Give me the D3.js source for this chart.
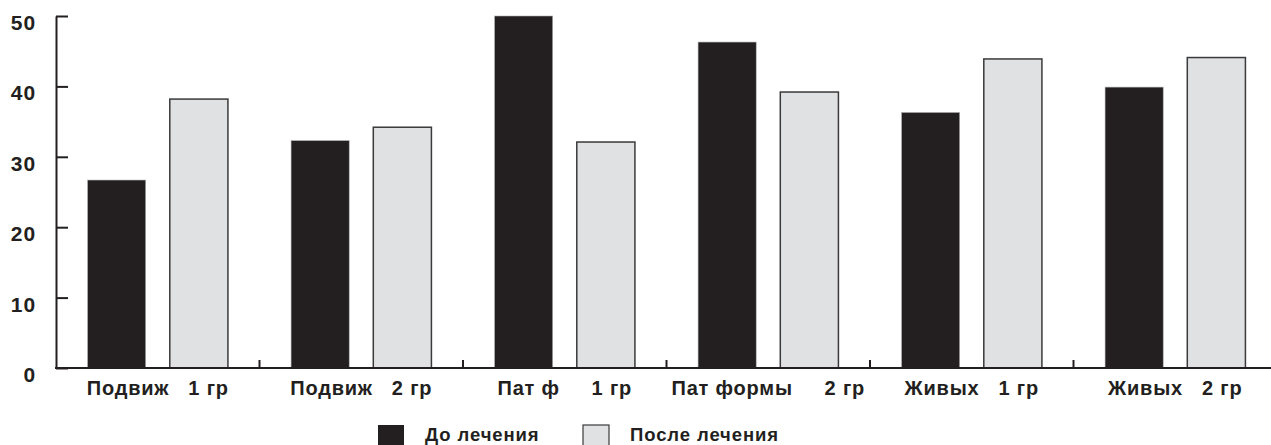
<!DOCTYPE html>
<html><head><meta charset="utf-8">
<script src="https://cdn.jsdelivr.net/npm/d3@7"></script>
<style>
html,body{margin:0;padding:0;background:#fff;}
svg{display:block;}
text{font-family:"Liberation Sans",Arial,sans-serif;font-weight:bold;fill:#231f20;}
</style></head>
<body>
<svg id="chart" width="1271" height="445"></svg>
<script>
const categories = ["Подвиж   1 гр", "Подвиж   2 гр", "Пат ф     1 гр", "Пат формы     2 гр", "Живых   1 гр", "Живых   2 гр"];
const seriesNames = ["До лечения", "После лечения"];
const before = [26.7, 32.3, 50.0, 46.3, 36.3, 39.9];
const after = [38.2, 34.2, 32.1, 39.2, 43.9, 44.1];
const yTicks = [0, 10, 20, 30, 40, 50];
const colors = ["#231f20", "#e0e1e3"];

(function () {
const svg = d3.select("#chart");
const mLeft = 56, mTop = 16, mBottom = 368, groupW = 203.5;
const FONT = '"Liberation Sans",Arial,sans-serif';

const y = d3.scaleLinear().domain([0, 50]).range([mBottom, mTop]);
const x0 = d3.scaleBand().domain(categories).range([mLeft, mLeft + groupW * categories.length]).padding(0);
const x1 = d3.scaleBand().domain(seriesNames).range([0, x0.bandwidth()]).paddingInner(0.293).paddingOuter(0.384);

const data = categories.map((c, i) => ({cat: c, vals: [before[i], after[i]]}));

const g = svg.append("g");
data.forEach(d => {
  d.vals.forEach((v, j) => {
    g.append("rect")
      .attr("x", x0(d.cat) + x1(seriesNames[j]))
      .attr("y", y(v))
      .attr("width", x1.bandwidth())
      .attr("height", y(0) - y(v))
      .attr("fill", colors[j])
      .attr("stroke", j === 0 ? "#b0b0b0" : "#3a3a3a")
      .attr("stroke-width", j === 0 ? 0.6 : 1.5);
  });
});

const yAxis = d3.axisLeft(y).tickValues(yTicks).tickSize(-12).tickSizeOuter(0).tickPadding(20);
const ya = svg.append("g").attr("transform", `translate(${mLeft},0)`).call(yAxis);
ya.select(".domain").attr("stroke", "#231f20").attr("stroke-width", 2);
ya.selectAll(".tick line").attr("stroke", "#231f20").attr("stroke-width", 2);
ya.selectAll(".tick text").attr("font-size", 21).attr("dy", "0.64em").attr("font-family", FONT).attr("font-weight", "bold").attr("fill", "#231f20").attr("letter-spacing", "0.9px");

const xAxis = d3.axisBottom(x0).tickSize(0).tickSizeOuter(0).tickPadding(14);
const xa = svg.append("g").attr("transform", `translate(0,${mBottom})`).call(xAxis);
xa.select(".domain").remove();
xa.append("line").attr("x1", mLeft - 1).attr("x2", 1271).attr("y1", 0).attr("y2", 0).attr("stroke", "#231f20").attr("stroke-width", 2);
categories.slice(1).forEach(c => {
  xa.append("line").attr("x1", x0(c)).attr("x2", x0(c)).attr("y1", 0).attr("y2", -8).attr("stroke", "#231f20").attr("stroke-width", 2);
});
xa.selectAll(".tick text").attr("font-size", 20).attr("font-family", FONT).attr("font-weight", "bold").attr("fill", "#231f20").attr("letter-spacing", "0.8px").style("white-space", "pre").attr("dy", "0.66em");

const legendX = [378, 583];
const lg = svg.append("g");
seriesNames.forEach((s, j) => {
  lg.append("rect").attr("x", legendX[j]).attr("y", 425).attr("width", 26).attr("height", 26)
    .attr("fill", colors[j]).attr("stroke", j === 0 ? "none" : "#3a3a3a").attr("stroke-width", 1.2);
  lg.append("text").attr("x", legendX[j] + 47).attr("y", 441).attr("font-size", 18.5).attr("letter-spacing", "0.9px").text(s);
});
})();
</script>
</body></html>
